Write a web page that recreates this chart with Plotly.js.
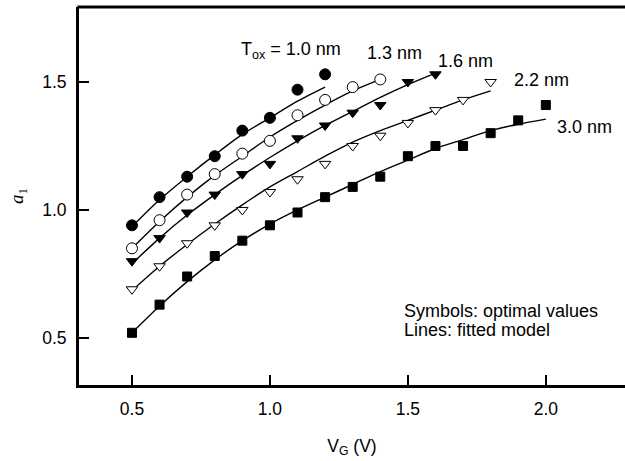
<!DOCTYPE html>
<html>
<head>
<meta charset="utf-8">
<script src="https://cdn.plot.ly/plotly-3.0.1.min.js"></script>
<style>html,body{margin:0;padding:0;background:#fff;}#chart{width:625px;height:461px;}</style>
</head>
<body>
<div id="chart"></div>
<script>
// Symbols: optimal values
const vg10 = [0.5, 0.6, 0.7, 0.8, 0.9, 1.0, 1.1, 1.2];
const a10  = [0.94, 1.05, 1.13, 1.21, 1.31, 1.36, 1.47, 1.53];
const vg13 = [0.5, 0.6, 0.7, 0.8, 0.9, 1.0, 1.1, 1.2, 1.3, 1.4];
const a13  = [0.85, 0.96, 1.06, 1.14, 1.22, 1.27, 1.37, 1.43, 1.48, 1.51];
const vg16 = [0.5, 0.6, 0.7, 0.8, 0.9, 1.0, 1.1, 1.2, 1.3, 1.4, 1.5, 1.6];
const a16  = [0.80, 0.89, 0.99, 1.06, 1.14, 1.18, 1.28, 1.33, 1.38, 1.41, 1.50, 1.53];
const vg22 = [0.5, 0.6, 0.7, 0.8, 0.9, 1.0, 1.1, 1.2, 1.3, 1.4, 1.5, 1.6, 1.7, 1.8];
const a22  = [0.69, 0.78, 0.87, 0.94, 1.00, 1.07, 1.12, 1.18, 1.25, 1.29, 1.34, 1.39, 1.43, 1.50];
const vg30 = [0.5, 0.6, 0.7, 0.8, 0.9, 1.0, 1.1, 1.2, 1.3, 1.4, 1.5, 1.6, 1.7, 1.8, 1.9, 2.0];
const a30  = [0.52, 0.63, 0.74, 0.82, 0.88, 0.94, 0.99, 1.05, 1.09, 1.13, 1.21, 1.25, 1.25, 1.30, 1.35, 1.41];

// Lines: fitted model
const fit10 = [0.935, 1.04, 1.13, 1.215, 1.295, 1.36, 1.425, 1.48];
const fit13 = [0.85, 0.955, 1.05, 1.135, 1.21, 1.285, 1.35, 1.41, 1.465, 1.51];
const fit16 = [0.79, 0.89, 0.98, 1.06, 1.135, 1.205, 1.27, 1.33, 1.385, 1.44, 1.49, 1.535];
const fit22 = [0.685, 0.78, 0.865, 0.945, 1.02, 1.09, 1.15, 1.21, 1.265, 1.31, 1.35, 1.39, 1.43, 1.465];
const fit30 = [0.52, 0.625, 0.72, 0.805, 0.88, 0.945, 1.0, 1.05, 1.10, 1.15, 1.195, 1.24, 1.275, 1.31, 1.335, 1.355];

// Labels
const seriesLabels = ["T<sub>ox</sub> = 1.0 nm", "1.3 nm", "1.6 nm", "2.2 nm", "3.0 nm"];
const labelX = [1.076, 1.45, 1.709, 1.985, 2.14];
const labelY = [1.622, 1.613, 1.583, 1.508, 1.326];
const noteLines = ["Symbols: optimal values", "Lines: fitted model"];
const xTicks = [0.5, 1.0, 1.5, 2.0];
const yTicks = [0.5, 1.0, 1.5];

const FONT = "Liberation Sans, Arial, Helvetica, sans-serif";
const lineStyle = {color: "#000", width: 1.4};

function fitTrace(x, y) {
  return {x: x, y: y, type: "scatter", mode: "lines", line: Object.assign({shape: "spline", smoothing: 0.8}, lineStyle), hoverinfo: "skip", showlegend: false};
}
function symTrace(x, y, symbol, size, fill) {
  return {x: x, y: y, type: "scatter", mode: "markers", showlegend: false,
    marker: {symbol: symbol, size: size, color: fill, line: {color: "#000", width: 1}}};
}

const data = [
  fitTrace(vg10, fit10), fitTrace(vg13, fit13), fitTrace(vg16, fit16), fitTrace(vg22, fit22), fitTrace(vg30, fit30),
  symTrace(vg10, a10, "circle", 11, "#000"),
  symTrace(vg13, a13, "circle", 11, "#fff"),
  symTrace(vg16, a16, "triangle-down", 10, "#000"),
  symTrace(vg22, a22, "triangle-down", 10, "#fff"),
  symTrace(vg30, a30, "square", 9, "#000")
];

const annotations = seriesLabels.map((t, i) => ({
  text: t, x: labelX[i], y: labelY[i], xref: "x", yref: "y", showarrow: false,
  xanchor: "center", yanchor: "middle", font: {family: FONT, size: 18, color: "#000"}
}));
annotations.push({text: noteLines[0], x: 1.478, y: 0.604, xref: "x", yref: "y", showarrow: false, xanchor: "left", yanchor: "middle", font: {family: FONT, size: 18, color: "#000"}});
annotations.push({text: noteLines[1], x: 1.478, y: 0.531, xref: "x", yref: "y", showarrow: false, xanchor: "left", yanchor: "middle", font: {family: FONT, size: 18, color: "#000"}});

const layout = {
  width: 625, height: 461,
  margin: {l: 79, r: 0, t: 7, b: 76, pad: 0},
  paper_bgcolor: "#fff", plot_bgcolor: "#fff",
  showlegend: false,
  font: {family: FONT, size: 17.5, color: "#000"},
  xaxis: {
    range: [0.308, 2.287], tickvals: xTicks, ticktext: xTicks.map(v => v.toFixed(1)),
    ticks: "inside", ticklen: 10, tickwidth: 1.5, tickcolor: "#000",
    showline: true, linewidth: 3, linecolor: "#000", showgrid: false, zeroline: false,
    tickfont: {family: FONT, size: 17.5}, ticklabelstandoff: 6,
    title: {text: "V<sub>G</sub> (V)", font: {family: FONT, size: 17.5}, standoff: 22}
  },
  yaxis: {
    range: [0.316, 1.793], tickvals: yTicks, ticktext: yTicks.map(v => v.toFixed(1)),
    ticks: "inside", ticklen: 10, tickwidth: 1.5, tickcolor: "#000",
    showline: true, linewidth: 3, linecolor: "#000", showgrid: false, zeroline: false,
    tickfont: {family: FONT, size: 17.5}, ticklabelstandoff: 6,
    title: {text: "<i>a</i><sub>1</sub>", font: {family: "Liberation Serif, Times New Roman, serif", size: 19}, standoff: 14}
  },
  shapes: [{type: "line", xref: "paper", yref: "paper", x0: -0.003, x1: 1, y0: 1, y1: 1, line: {color: "#000", width: 3}}],
  annotations: annotations
};

Plotly.newPlot("chart", data, layout, {displayModeBar: false, staticPlot: true});
</script>
</body>
</html>
